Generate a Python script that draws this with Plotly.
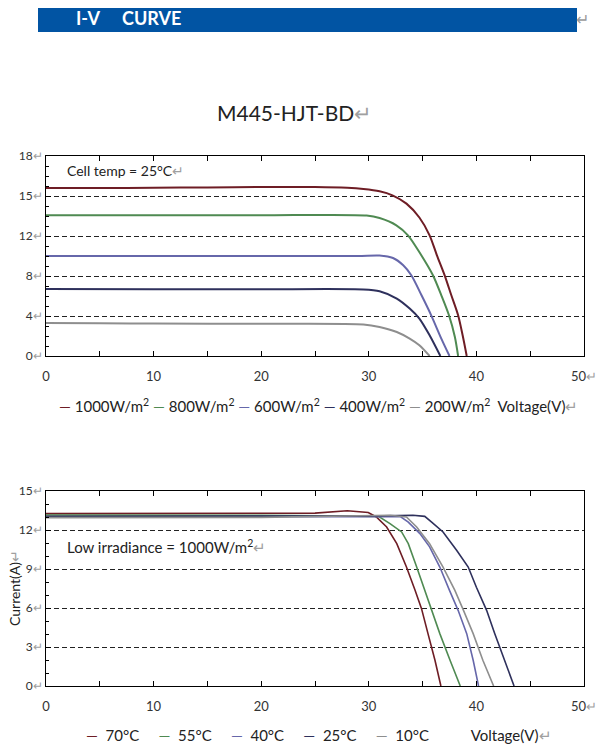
import plotly.graph_objects as go

# ---- data ----
# top panel: irradiance curves at 25C (axis drawn 0..20, labelled 0,4,8,12,15,18)
irr_names = ["1000W/m²", "800W/m²", "600W/m²", "400W/m²", "200W/m²"]

v_1000 = [0, 5, 10, 15, 20, 25, 28, 29.5, 31.0, 32.2, 33.5, 34.7, 35.65, 36.33, 37.05, 37.67, 38.3, 38.72, 39.1]
i_1000 = [16.80, 16.80, 16.82, 16.86, 16.90, 16.90, 16.82, 16.70, 16.47, 16.07, 15.24, 13.85, 12.07, 10.07, 8.07, 6.07, 4.07, 2.07, 0]

v_800 = [0, 10, 20, 29.8, 31.0, 32.56, 33.64, 34.88, 35.96, 36.74, 37.45, 38.0, 38.3]
i_800 = [14.07, 14.07, 14.07, 14.05, 13.80, 13.07, 12.07, 10.07, 8.07, 6.07, 4.07, 1.90, 0]

v_600 = [0, 10, 20, 29.0, 31.0, 32.25, 33.2, 33.95, 34.9, 35.8, 36.74, 37.5]
i_600 = [10.00, 10.00, 10.00, 10.00, 10.05, 9.80, 9.07, 8.07, 6.07, 4.07, 1.74, 0]

v_400 = [0, 10, 20, 29.5, 31.0, 32.6, 33.8, 34.7, 35.65, 36.65]
i_400 = [6.70, 6.67, 6.67, 6.65, 6.47, 5.74, 4.74, 3.74, 2.07, 0]

v_200 = [0, 5, 10, 20, 29.5, 31.0, 32.6, 33.8, 34.7, 35.65]
i_200 = [3.30, 3.28, 3.25, 3.22, 3.15, 2.90, 2.40, 1.74, 1.07, 0]

# bottom panel: temperature curves at 1000W/m2
temp_names = ["70°C", "55°C", "40°C", "25°C", "10°C"]

v_70 = [0, 10, 20, 25, 28.0, 29.95, 30.7, 31.66, 32.6, 33.5, 34.3, 34.9, 35.5, 36.15, 36.7]
i_70 = [13.26, 13.27, 13.28, 13.30, 13.48, 13.35, 13.00, 12.23, 10.95, 9.15, 7.36, 5.95, 4.03, 1.98, 0]

v_55 = [0, 10, 20, 30.9, 31.97, 33.05, 33.67, 34.45, 35.2, 35.84, 36.6, 37.55, 38.5]
i_55 = [13.15, 13.15, 13.13, 13.05, 12.49, 11.85, 10.95, 9.15, 7.36, 5.95, 4.03, 1.98, 0]

v_40 = [0, 10, 20, 32.9, 33.67, 34.75, 35.65, 36.6, 37.5, 38.3, 39.1, 39.7, 40.2]
i_40 = [13.00, 13.00, 13.02, 13.05, 12.60, 11.72, 10.70, 9.15, 7.36, 5.82, 4.03, 1.98, 0]

v_25 = [0, 10, 20, 30, 34.1, 35.2, 35.84, 36.9, 38.16, 39.24, 40.0, 40.95, 41.7, 42.65, 43.5]
i_25 = [13.05, 13.05, 13.05, 13.08, 13.13, 13.05, 12.60, 11.85, 10.44, 9.15, 7.60, 5.82, 4.03, 1.98, 0]

v_10 = [0, 10, 20, 32.0, 33.5, 34.45, 35.65, 36.9, 38.0, 38.8, 39.7, 40.6, 41.6]
i_10 = [12.95, 12.95, 12.97, 13.13, 13.00, 12.23, 10.95, 9.15, 7.36, 5.82, 4.03, 1.98, 0]

colors = ["#6e1d25", "#4f8a52", "#6667aa", "#2e305c", "#8e8e8e"]
grey = "#9a9a9a"
RET = "<span style='color:#a0a0a0'>↵</span>"
FONT = "Lato"

fig = go.Figure()

top = [(v_1000, i_1000), (v_800, i_800), (v_600, i_600), (v_400, i_400), (v_200, i_200)]
for (v, i), name, c in zip(top, irr_names, colors):
    fig.add_trace(go.Scatter(x=v, y=i, name=name, mode="lines", line=dict(color=c, width=2, shape="spline", smoothing=0.8),
                             xaxis="x", yaxis="y", showlegend=False))

bot = [(v_70, i_70), (v_55, i_55), (v_40, i_40), (v_25, i_25), (v_10, i_10)]
for (v, i), name, c in zip(bot, temp_names, colors):
    fig.add_trace(go.Scatter(x=v, y=i, name=name, mode="lines", line=dict(color=c, width=1.6),
                             xaxis="x2", yaxis="y2", showlegend=False))

# page is 609x755; the html body keeps an 8px margin, so the figure is 16px smaller
# and every position below is given in page pixels and shifted by that margin
OFF = 8
W, H = 609 - 2 * OFF, 755 - 2 * OFF
def px(x):
    return (x - OFF) / W
def py(y):
    return 1 - (y - OFF) / H

xax = dict(range=[0, 50], dtick=10, ticks="inside", ticklen=5, tickcolor="black",
           minor=dict(dtick=5, ticks="inside", ticklen=5, tickcolor="black"),
           showline=True, linecolor="black", linewidth=1, mirror="ticks",
           showgrid=False, zeroline=False, tickfont=dict(size=13, color="#333", family=FONT),
           ticklabelstandoff=8, automargin=False)
yax = dict(ticks="inside", ticklen=5, tickcolor="black",
           minor=dict(dtick=1, ticks="inside", ticklen=3, tickcolor="black"),
           showline=True, linecolor="black", linewidth=1, mirror=True,
           showgrid=True, gridcolor="#222", gridwidth=1, griddash="5px,3px", zeroline=False,
           tickfont=dict(size=12, color="#333", family=FONT), ticklabelstandoff=0, automargin=False)

x_text = ["0", "10", "20", "30", "40", "50" + RET]

fig.update_layout(
    width=W, height=H, margin=dict(l=0, r=0, t=0, b=0, autoexpand=False),
    paper_bgcolor="white", plot_bgcolor="white",
    font=dict(family=FONT, color="#222"),
    xaxis=dict(xax, domain=[px(46), px(584)], anchor="y", tickvals=[0, 10, 20, 30, 40, 50], ticktext=x_text),
    yaxis=dict(yax, domain=[py(356), py(156)], anchor="x", range=[0, 20],
               tickvals=[0, 4, 8, 12, 16, 20],
               ticktext=[t + RET for t in ["0", "4", "8", "12", "15", "18"]]),
    xaxis2=dict(xax, domain=[px(46), px(584)], anchor="y2", tickvals=[0, 10, 20, 30, 40, 50], ticktext=x_text),
    yaxis2=dict(yax, domain=[py(686), py(491)], anchor="x2", range=[0, 15],
                tickvals=[0, 3, 6, 9, 12, 15],
                ticktext=[t + RET for t in ["0", "3", "6", "9", "12", "15"]]),
)

# blue header band
fig.add_shape(type="rect", xref="paper", yref="paper", x0=px(38), x1=px(577), y0=py(32), y1=py(3),
              fillcolor="#0154a3", line=dict(width=0), layer="below")
fig.add_annotation(x=px(74), y=py(18), xref="paper", yref="paper", xanchor="left", yanchor="middle",
                   text="<b>I-V</b>", showarrow=False, font=dict(size=18, color="white", family=FONT))
fig.add_annotation(x=px(120), y=py(18), xref="paper", yref="paper", xanchor="left", yanchor="middle",
                   text="<b>CURVE</b>", showarrow=False, font=dict(size=18, color="white", family=FONT))
fig.add_annotation(x=px(574), y=py(18), xref="paper", yref="paper", xanchor="left", yanchor="middle",
                   text="↵", showarrow=False, font=dict(size=16, color=grey))

fig.add_annotation(x=px(215), y=py(113), xref="paper", yref="paper", xanchor="left", yanchor="middle",
                   text="M445-HJT-BD" + RET, showarrow=False, font=dict(size=21, color="#222", family=FONT))

fig.add_annotation(x=px(65), y=py(170), xref="paper", yref="paper", xanchor="left", yanchor="middle",
                   text="Cell temp = 25°C" + RET, showarrow=False, font=dict(size=14, color="#222", family=FONT))
fig.add_annotation(x=px(65), y=py(546), xref="paper", yref="paper", xanchor="left", yanchor="middle",
                   text="Low irradiance = 1000W/m<sup>2</sup>" + RET, showarrow=False,
                   font=dict(size=15, color="#222", family=FONT))

fig.add_annotation(x=px(14), y=py(588), xref="paper", yref="paper", xanchor="center", yanchor="middle",
                   text="Current(A)" + RET, textangle=-90, showarrow=False,
                   font=dict(size=14, color="#222", family=FONT))

# legend rows written as text, one coloured dash per series
leg1 = ""
for n, c in zip(irr_names, colors):
    leg1 += "<span style='color:%s'>—</span> %s " % (c, n.replace("²", "<sup>2</sup>"))
leg1 += "&nbsp;Voltage(V)" + RET
fig.add_annotation(x=px(57), y=py(405), xref="paper", yref="paper", xanchor="left", yanchor="middle",
                   text=leg1, showarrow=False, font=dict(size=15, color="#222", family=FONT))

leg2 = ""
for n, c in zip(temp_names, colors):
    leg2 += "<span style='color:%s'>—</span>&nbsp; %s&nbsp;&nbsp;&nbsp;&nbsp;&nbsp;" % (c, n)
leg2 += "&nbsp;&nbsp;&nbsp;&nbsp;&nbsp;&nbsp;Voltage(V)" + RET
fig.add_annotation(x=px(84), y=py(735), xref="paper", yref="paper", xanchor="left", yanchor="middle",
                   text=leg2, showarrow=False, font=dict(size=15, color="#222", family=FONT))

fig.write_html("out.html")
